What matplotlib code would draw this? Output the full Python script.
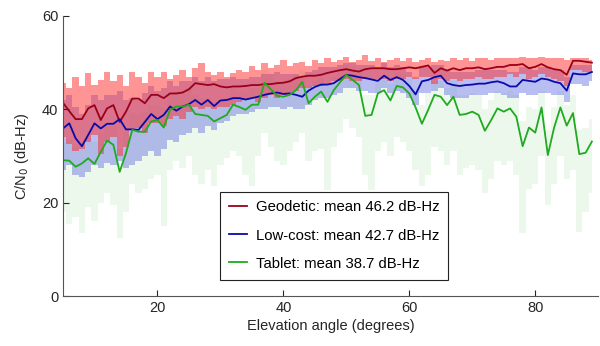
import numpy as np
import matplotlib.pyplot as plt

plt.rcParams['font.family'] = ['Liberation Sans', 'DejaVu Sans']

# elevation bins (degrees)
elev = np.arange(5, 90)

# mean C/N0 per elevation bin (dB-Hz)
geo_mean = [41.4, 39.6, 37.9, 37.9, 40.2, 40.9, 37.7, 40.2, 40.9, 37.3, 39.5, 42.3, 42.3, 41.3, 43.1,
            43.1, 42.4, 43.4, 43.4, 43.6, 44.3, 45.6, 45.4, 45.2, 45.4, 44.9, 44.7, 44.9, 44.9,
            45.0, 45.2, 45.2, 45.4, 45.4, 45.6, 45.7, 46.0, 46.7, 47.0, 47.2, 47.2, 47.4, 47.8,
            48.1, 48.4, 48.6, 48.3, 48.1, 48.6, 48.8, 48.8, 48.8, 48.6, 48.6, 48.8, 49.0, 48.8, 49.1,
            49.4, 47.8, 48.8, 48.3, 48.8, 48.4, 48.8, 48.8, 49.0, 48.6, 48.8, 49.1, 49.1,
            49.5, 49.5, 49.7, 48.8, 49.1, 49.7, 49.0, 48.6, 48.4, 47.4, 50.4, 50.4, 50.2, 50.0]
low_mean = [35.9, 37.0, 33.8, 32.1, 34.5, 37.0, 35.9, 36.9, 36.9, 37.9, 35.7, 35.7, 35.6, 37.3, 39.0,
            37.9, 38.8, 40.6, 39.7, 40.6, 41.1, 42.0, 41.0, 42.0, 40.7, 41.9, 42.0, 42.4, 42.4,
            42.1, 42.4, 42.7, 43.1, 43.4, 43.6, 43.3, 43.4, 43.1, 42.7, 44.0, 44.8, 45.3, 45.3,
            45.6, 46.5, 47.4, 47.2, 46.9, 46.7, 46.4, 46.1, 47.2, 46.3, 46.9, 46.3, 45.0, 43.2, 46.0,
            46.3, 46.9, 47.2, 45.6, 45.2, 45.0, 45.2, 45.3, 45.5, 45.5, 45.8, 46.0, 45.6,
            44.9, 44.9, 46.3, 46.1, 45.9, 46.6, 46.4, 45.9, 45.6, 44.0, 47.7, 47.5, 47.5, 48.0]
tab_mean = [29.1, 29.0, 27.7, 28.4, 29.5, 28.3, 30.9, 33.3, 32.4, 26.6, 30.6, 35.6, 35.2, 35.2, 37.4,
            37.7, 36.1, 39.9, 40.6, 40.6, 41.0, 39.0, 38.8, 38.6, 37.4, 38.1, 38.8, 41.0, 40.5,
            39.9, 41.0, 41.0, 45.7, 44.3, 42.9, 42.7, 43.1, 44.1, 45.9, 41.3, 42.7, 43.8, 41.6,
            44.1, 45.8, 47.4, 46.3, 45.2, 38.6, 38.8, 43.4, 44.1, 41.9, 45.0, 44.7, 43.4, 40.4, 36.9,
            39.9, 43.1, 42.7, 40.9, 42.7, 38.8, 39.0, 39.5, 38.8, 35.4, 37.7, 40.2, 39.5,
            40.2, 38.4, 32.1, 36.1, 35.0, 40.4, 30.2, 36.1, 40.4, 36.5, 39.2, 30.4, 30.7, 33.1]

# spread per elevation bin (dB-Hz)
geo_hi = [45.6, 44.5, 47.0, 45.0, 47.7, 45.2, 46.3, 47.9, 46.0, 47.4, 44.9, 47.9, 47.0, 45.6, 47.9,
          47.0, 48.1, 46.5, 47.4, 48.4, 47.0, 48.8, 49.9, 48.1, 47.4, 48.1, 47.0, 47.7, 48.4,
          48.1, 49.3, 48.4, 49.9, 48.8, 49.5, 50.6, 49.3, 49.9, 50.2, 49.3, 50.6, 49.9, 50.9,
          50.2, 50.6, 51.3, 50.2, 50.6, 51.6, 50.4, 50.9, 50.2, 50.6, 51.1, 50.4, 50.9, 50.2, 50.6,
          50.9, 50.2, 50.6, 50.4, 51.1, 50.6, 50.9, 50.4, 50.9, 51.1, 50.6, 50.9, 51.1,
          50.9, 51.1, 51.3, 50.9, 51.1, 51.3, 50.9, 51.1, 50.9, 50.6, 51.1, 51.1, 50.9, 50.6]
geo_lo = [34.0, 32.5, 31.0, 31.5, 33.0, 34.5, 30.5, 33.0, 34.0, 30.0, 32.0, 35.5, 36.0, 35.0, 37.0,
          37.0, 36.5, 38.0, 38.5, 38.0, 39.5, 40.5, 40.0, 40.5, 40.0, 40.5, 40.5, 41.0, 41.5,
          42.0, 42.5, 41.5, 42.5, 43.0, 42.5, 43.0, 43.5, 44.0, 44.5, 44.5, 45.0, 45.0, 45.5,
          46.0, 46.0, 46.5, 46.0, 46.0, 46.5, 46.5, 46.5, 46.5, 46.0, 46.5, 46.5, 47.0, 46.5, 47.0,
          47.0, 45.5, 46.5, 46.0, 46.5, 46.0, 46.5, 46.5, 47.0, 46.5, 46.5, 47.0, 47.0,
          47.5, 47.0, 47.5, 46.5, 47.0, 47.5, 47.0, 46.5, 46.0, 45.0, 48.5, 48.5, 48.0, 48.0]
low_hi = [42.0, 43.0, 40.5, 39.0, 41.0, 43.0, 42.0, 43.0, 43.0, 44.0, 42.0, 42.5, 42.0, 43.5, 45.0,
          44.0, 44.5, 46.0, 45.0, 46.0, 46.0, 47.0, 46.0, 47.0, 46.0, 46.5, 46.5, 47.0, 46.5,
          46.5, 47.0, 47.0, 47.5, 47.5, 48.0, 47.5, 47.5, 47.5, 47.0, 48.0, 48.5, 49.0, 49.0,
          49.0, 49.5, 50.0, 50.0, 49.5, 49.5, 49.5, 49.0, 50.0, 49.0, 49.5, 49.0, 48.0, 47.0, 49.0,
          49.0, 49.5, 49.5, 48.5, 48.0, 48.0, 48.0, 48.0, 48.5, 48.5, 48.5, 48.5, 48.5,
          48.0, 48.0, 49.0, 49.0, 48.5, 49.0, 49.0, 48.5, 48.5, 47.0, 49.5, 49.5, 49.5, 49.5]
low_lo = [27.0, 28.0, 26.0, 25.5, 26.5, 28.0, 27.5, 28.5, 28.0, 29.0, 27.5, 28.0, 29.0, 30.0, 31.0,
          30.0, 31.5, 33.5, 33.0, 34.5, 35.0, 36.0, 35.0, 36.5, 35.5, 37.0, 37.5, 38.5, 39.0,
          39.0, 39.5, 40.0, 40.0, 40.5, 40.5, 40.0, 40.5, 40.0, 40.0, 41.0, 42.0, 42.5, 42.5,
          43.0, 43.5, 44.5, 44.5, 44.0, 44.0, 43.5, 43.5, 44.5, 43.5, 44.0, 43.5, 42.5, 41.0, 43.5,
          43.5, 44.0, 44.5, 43.0, 42.5, 42.5, 42.5, 43.0, 43.0, 43.0, 43.5, 43.5, 43.0,
          42.5, 42.5, 43.5, 43.0, 43.0, 43.5, 43.5, 43.0, 43.0, 41.5, 45.5, 45.5, 45.0, 46.0]
tab_hi = [33.0, 33.5, 32.0, 32.5, 34.0, 33.0, 35.0, 37.0, 36.5, 31.5, 35.0, 39.0, 39.0, 39.5, 41.0,
          41.0, 40.0, 43.0, 44.0, 44.0, 44.5, 43.0, 42.5, 42.5, 41.5, 42.0, 42.5, 44.5, 44.0,
          43.5, 44.5, 44.5, 48.5, 47.5, 46.0, 46.0, 46.5, 47.5, 48.5, 45.0, 46.0, 47.0, 45.0,
          47.0, 48.5, 49.5, 49.0, 48.0, 43.0, 43.0, 46.5, 47.0, 45.5, 48.0, 47.5, 46.5, 44.0, 41.0,
          43.5, 46.0, 46.0, 44.5, 46.0, 43.0, 43.0, 43.5, 43.0, 40.0, 42.0, 44.0, 43.5,
          44.0, 43.0, 37.5, 40.5, 40.0, 44.0, 35.5, 40.5, 44.0, 41.0, 43.0, 35.5, 36.0, 38.0]
tab_lo = [18.0, 15.5, 17.0, 13.5, 19.0, 16.0, 20.0, 22.0, 19.5, 12.5, 18.0, 24.0, 22.0, 23.0, 25.0,
          26.0, 15.0, 27.0, 29.0, 27.5, 30.0, 26.0, 24.0, 27.0, 23.5, 28.0, 29.5, 31.0, 30.0,
          26.0, 23.5, 30.0, 35.0, 32.0, 29.0, 28.0, 31.0, 33.0, 35.0, 29.0, 31.0, 31.5, 22.7,
          32.0, 35.0, 38.0, 36.0, 34.0, 26.0, 22.7, 31.0, 33.0, 30.0, 34.0, 33.0, 31.0, 27.0, 23.5,
          26.0, 32.0, 31.0, 28.0, 31.0, 26.0, 27.5, 28.0, 27.0, 22.0, 25.0, 29.0, 28.0,
          29.0, 26.0, 13.5, 23.0, 24.0, 30.0, 19.5, 24.0, 30.0, 25.0, 27.0, 13.8, 18.0, 22.0]

labels = ['Geodetic: mean 46.2 dB-Hz', 'Low-cost: mean 42.7 dB-Hz', 'Tablet: mean 38.7 dB-Hz']

fig = plt.figure(figsize=(6.0, 3.46), dpi=100)
ax = fig.add_axes([0.105, 0.1445, 0.892, 0.8093])

# shaded spread, tablet at the back
ax.fill_between(elev, tab_lo, tab_hi, step='mid', color='#a8e0a8', alpha=0.2, lw=0)
ax.fill_between(elev, low_lo, low_hi, step='mid', color='#5a66e0', alpha=0.42, lw=0)
ax.fill_between(elev, geo_lo, geo_hi, step='mid', color='#ff2a2a', alpha=0.5, lw=0)

ax.plot(elev, geo_mean, color='#9a0018', lw=1.3, label=labels[0])
ax.plot(elev, low_mean, color='#0a0aa8', lw=1.3, label=labels[1])
ax.plot(elev, tab_mean, color='#1faa1f', lw=1.3, label=labels[2])

ax.set_xlim(5, 90)
ax.set_ylim(0, 60)
ax.set_xticks([20, 40, 60, 80])
ax.set_yticks([0, 20, 40, 60])
ax.tick_params(direction='in', length=4, labelsize=10.5, colors='#262626')
for side in ['top', 'right']:
    ax.spines[side].set_visible(False)
for side in ['left', 'bottom']:
    ax.spines[side].set_color('#555555')
    ax.spines[side].set_linewidth(0.8)

ax.set_xlabel('Elevation angle (degrees)', fontsize=10.5, color='#262626', labelpad=3)
ax.set_ylabel('C/N$_0$ (dB-Hz)', fontsize=10.5, color='#262626', labelpad=8)

leg = ax.legend(loc='lower left', bbox_to_anchor=(0.28, 0.032), fontsize=10.7,
                frameon=True, fancybox=False, edgecolor='#222222', framealpha=1,
                handlelength=1.2, labelspacing=0.95, borderpad=0.6, handletextpad=0.6)
leg.get_frame().set_linewidth(0.8)

fig.savefig('out.png', dpi=100)
